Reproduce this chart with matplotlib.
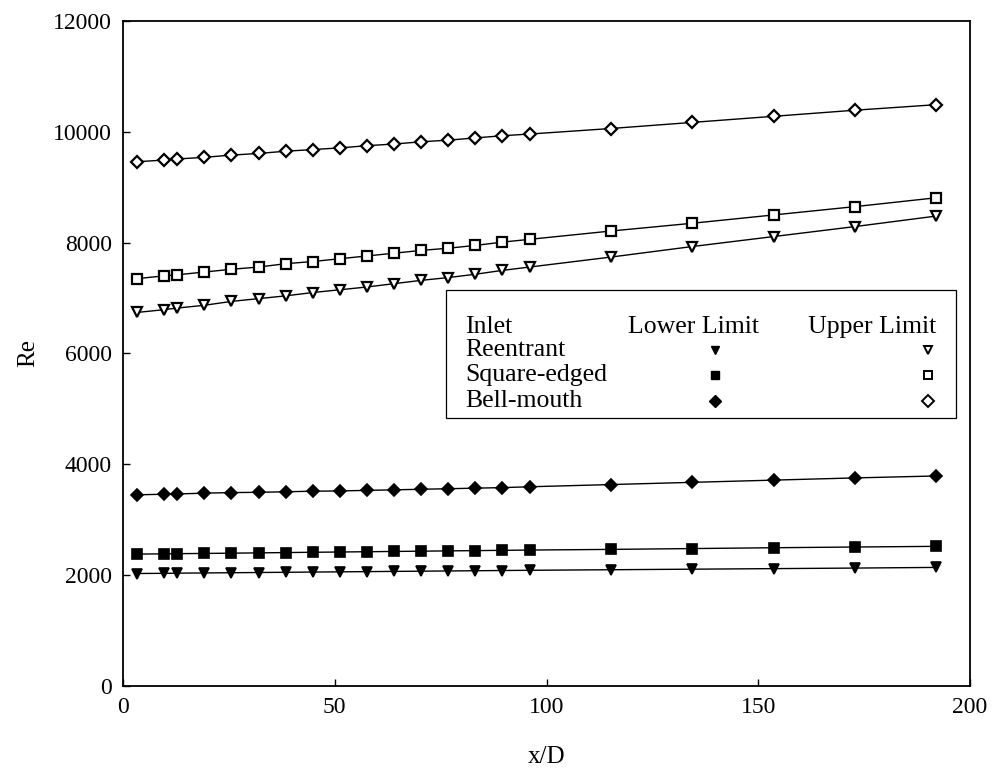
import matplotlib
matplotlib.use("Agg")
import matplotlib.pyplot as plt
from matplotlib.patches import Rectangle

plt.rcParams['font.family'] = ['Liberation Serif', 'DejaVu Serif']

# x/D stations
x_d = [3.2, 9.6, 12.8, 19.2, 25.6, 32.0, 38.4, 44.8, 51.2, 57.6, 64.0,
       70.4, 76.8, 83.2, 89.6, 96.0, 115.2, 134.4, 153.6, 172.8, 192.0]

# Upper limits (open markers)
reentrant_upper = [6740, 6790, 6820, 6870, 6940, 6990, 7040, 7100, 7150, 7200, 7260,
                   7320, 7370, 7430, 7500, 7560, 7740, 7930, 8110, 8290, 8480]
square_upper = [7350, 7400, 7420, 7470, 7520, 7560, 7620, 7660, 7710, 7760, 7810,
                7860, 7900, 7950, 8010, 8060, 8210, 8350, 8500, 8650, 8810]
bell_upper = [9460, 9490, 9510, 9540, 9580, 9610, 9650, 9680, 9710, 9750, 9780,
              9820, 9850, 9890, 9930, 9960, 10060, 10170, 10280, 10390, 10490]

# Lower limits (filled markers)
reentrant_lower = [2030, 2033, 2036, 2040, 2044, 2048, 2052, 2056, 2060, 2064, 2068,
                   2072, 2076, 2080, 2084, 2088, 2098, 2108, 2118, 2128, 2140]
square_lower = [2380, 2385, 2388, 2392, 2397, 2402, 2408, 2413, 2418, 2423, 2428,
                2433, 2438, 2443, 2448, 2453, 2465, 2480, 2495, 2508, 2520]
bell_lower = [3450, 3460, 3465, 3480, 3490, 3495, 3505, 3515, 3520, 3530, 3540,
              3550, 3560, 3570, 3580, 3595, 3635, 3675, 3715, 3755, 3790]

inlets = ['Reentrant', 'Square-edged', 'Bell-mouth']
markers = ['v', 's', 'D']
lower = [reentrant_lower, square_lower, bell_lower]
upper = [reentrant_upper, square_upper, bell_upper]
msizes = [6.5, 6.5, 6.5]

fig = plt.figure(figsize=(9.95, 7.72), dpi=100)
ax = fig.add_axes([0.1236, 0.1114, 0.8513, 0.8614])

for m, ms, lo, up in zip(markers, msizes, lower, upper):
    ax.plot(x_d, lo, color='black', lw=1.0, marker=m, ms=ms,
            mfc='black', mec='black', mew=1.2)
    ax.plot(x_d, up, color='black', lw=1.0, marker=m, ms=ms,
            mfc='white', mec='black', mew=1.6)

ax.set_xlim(0, 200)
ax.set_ylim(0, 12000)
ax.set_xticks([0, 50, 100, 150, 200])
ax.set_yticks(range(0, 12001, 2000))
ax.tick_params(direction='in', length=5, width=1, labelsize=17, pad=8)
for s in ax.spines.values():
    s.set_linewidth(1.3)

ax.set_xlabel('x/D', fontsize=18, labelpad=20)
ax.set_ylabel('Re', fontsize=18, labelpad=10)

# legend drawn as a small table
ax.add_patch(Rectangle((0.381, 0.403), 0.602, 0.1925, transform=ax.transAxes,
                       fill=True, facecolor='white', edgecolor='black', lw=0.9, zorder=5))
fs = 18.5
ax.text(0.404, 0.540, 'Inlet', transform=ax.transAxes, fontsize=fs, va='center', zorder=6)
ax.text(0.673, 0.540, 'Lower Limit', transform=ax.transAxes, fontsize=fs,
        va='center', ha='center', zorder=6)
ax.text(0.885, 0.540, 'Upper Limit', transform=ax.transAxes, fontsize=fs,
        va='center', ha='center', zorder=6)
row_y = [0.505, 0.467, 0.428]
for name, m, ry in zip(inlets, markers, row_y):
    ax.text(0.404, ry, name, transform=ax.transAxes, fontsize=fs, va='center', zorder=6)
    ax.plot([0.699], [ry], transform=ax.transAxes, marker=m, ms=6,
            mfc='black', mec='black', ls='none', zorder=6, clip_on=False)
    ax.plot([0.950], [ry], transform=ax.transAxes, marker=m, ms=6,
            mfc='white', mec='black', mew=1.4, ls='none', zorder=6, clip_on=False)

fig.savefig('out.png', dpi=100)
